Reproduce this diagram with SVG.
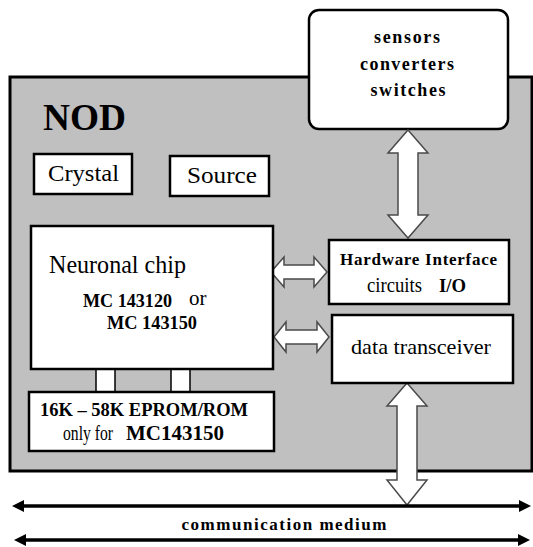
<svg xmlns="http://www.w3.org/2000/svg" width="533" height="547" viewBox="0 0 533 547" font-family="'Liberation Serif', 'Times New Roman', serif">
<defs>
<style>
.box{fill:#fff;stroke:#000;stroke-width:2.5}
.arr{fill:#fff;stroke:#4a4a4a;stroke-width:1.5;stroke-linejoin:miter}
text{font-family:'Liberation Serif','Times New Roman',serif;fill:#000}
.b{font-weight:bold}
.line{stroke:#000;stroke-width:3.5;fill:none}
</style>
<marker id="ah" markerUnits="userSpaceOnUse" markerWidth="13" markerHeight="13" refX="0" refY="6" orient="auto-start-reverse" viewBox="0 0 13 12">
<path d="M0,0 L12,6 L0,12 Z" fill="#000"/>
</marker>
</defs>
<rect width="533" height="547" fill="#fff"/>
<g id="nod">
<rect x="10" y="77" width="522" height="394" fill="#c0c0c0" stroke="#000" stroke-width="3"/>
<text class="b" x="43" y="130" font-size="37" textLength="83" lengthAdjust="spacingAndGlyphs">NOD</text>
</g>
<g id="sensors">
<rect class="box" x="309" y="10" width="199" height="119" rx="10"/>
<text class="b" x="407" y="43" font-size="18" text-anchor="middle" textLength="66" lengthAdjust="spacing">sensors</text>
<text class="b" x="407" y="70" font-size="18" text-anchor="middle" textLength="94" lengthAdjust="spacing">converters</text>
<text class="b" x="408" y="96" font-size="18" text-anchor="middle" textLength="75" lengthAdjust="spacing">switches</text>
</g>
<g id="crystal">
<rect class="box" x="34" y="154" width="98" height="40"/>
<text x="48" y="181" font-size="24" textLength="71" lengthAdjust="spacingAndGlyphs">Crystal</text>
</g>
<g id="source">
<rect class="box" x="170" y="156" width="99" height="40"/>
<text x="187" y="183" font-size="24" textLength="70" lengthAdjust="spacingAndGlyphs">Source</text>
</g>
<g id="connectors">
<path class="arr" d="M408,130 L428,153 L418,153 L418,215 L428,215 L408,238 L388,215 L398,215 L398,153 L388,153 Z"/>
<path class="arr" d="M271,272 L284,257 L284,265 L314,265 L314,257 L327,272 L314,287 L314,279 L284,279 L284,287 Z"/>
<path class="arr" d="M274,337 L286,322 L286,330 L317,330 L317,322 L329,337 L317,352 L317,344 L286,344 L286,352 Z"/>
<rect x="96" y="369" width="19" height="23" fill="#fff" stroke="#000" stroke-width="1.5"/>
<rect x="171" y="369" width="19" height="23" fill="#fff" stroke="#000" stroke-width="1.5"/>
<path class="arr" d="M407,383 L427,406 L417,406 L417,480 L427,480 L407,505 L387,480 L397,480 L397,406 L387,406 Z"/>
<line class="line" x1="24" y1="506" x2="519" y2="506" marker-start="url(#ah)" marker-end="url(#ah)"/>
<line class="line" x1="26" y1="540" x2="518" y2="540" marker-start="url(#ah)" marker-end="url(#ah)"/>
</g>
<g id="neuronal-chip">
<rect class="box" x="31" y="226" width="242" height="143"/>
<text x="49" y="273" font-size="25" textLength="137" lengthAdjust="spacingAndGlyphs">Neuronal chip</text>
<text class="b" x="83" y="307" font-size="19" textLength="89" lengthAdjust="spacingAndGlyphs">MC 143120</text>
<text x="189" y="305" font-size="21">or</text>
<text class="b" x="107" y="329" font-size="19" textLength="90" lengthAdjust="spacingAndGlyphs">MC 143150</text>
</g>
<g id="hardware-interface">
<rect class="box" x="329" y="240" width="180" height="64"/>
<text class="b" x="340" y="265" font-size="17" textLength="157" lengthAdjust="spacing">Hardware Interface</text>
<text x="367" y="292" font-size="20" textLength="55" lengthAdjust="spacingAndGlyphs">circuits</text>
<text class="b" x="439" y="292" font-size="18" textLength="27" lengthAdjust="spacingAndGlyphs">I/O</text>
</g>
<g id="data-transceiver">
<rect class="box" x="332" y="315" width="181" height="68"/>
<text x="351" y="354" font-size="22" textLength="140" lengthAdjust="spacingAndGlyphs">data transceiver</text>
</g>
<g id="eprom">
<rect class="box" x="29" y="392" width="245" height="59"/>
<text class="b" x="40" y="416" font-size="18" textLength="208" lengthAdjust="spacingAndGlyphs">16K – 58K EPROM/ROM</text>
<text x="63" y="440" font-size="21" textLength="50" lengthAdjust="spacingAndGlyphs">only for</text>
<text class="b" x="126" y="440" font-size="20" textLength="98" lengthAdjust="spacingAndGlyphs">MC143150</text>
</g>
<text class="b" x="284" y="530" font-size="17" text-anchor="middle" textLength="205" lengthAdjust="spacing">communication medium</text>
</svg>
